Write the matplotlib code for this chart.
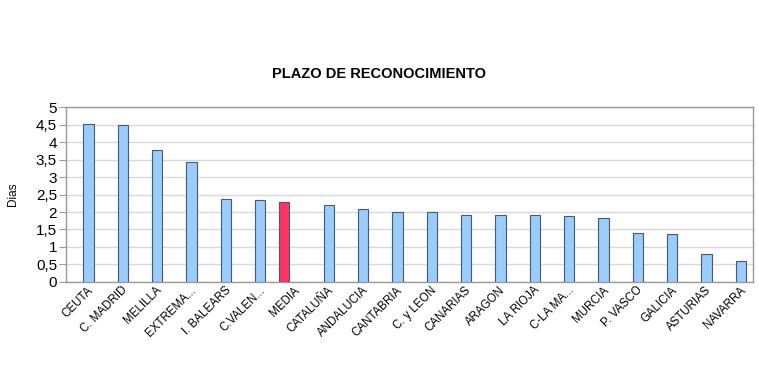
import numpy as np
import matplotlib
matplotlib.use("Agg")
import matplotlib.pyplot as plt
from matplotlib.ticker import FuncFormatter, MultipleLocator
from matplotlib.transforms import ScaledTranslation

plt.rcParams['font.family'] = ['Liberation Sans', 'DejaVu Sans']

regiones = ['CEUTA', 'C. MADRID', 'MELILLA', 'EXTREMA...', 'I. BALEARS', 'C.VALEN...',
            'MEDIA', 'CATALUÑA', 'ANDALUCIA', 'CANTABRIA', 'C. y LEON', 'CANARIAS',
            'ARAGON', 'LA RIOJA', 'C-LA MA...', 'MURCIA', 'P. VASCO', 'GALICIA',
            'ASTURIAS', 'NAVARRA']
plazo = [4.51, 4.50, 3.77, 3.43, 2.37, 2.33, np.nan, 2.20, 2.09, 2.00, 2.00, 1.91,
         1.91, 1.91, 1.89, 1.83, 1.40, 1.37, 0.80, 0.60]
media = [np.nan] * 6 + [2.29] + [np.nan] * 13

fig = plt.figure(figsize=(7.59, 3.91), dpi=100)
ax = fig.add_axes([0.087, 0.279, 0.905, 0.447])

x = np.arange(len(regiones))
w = 0.3
ax.bar(x + w / 2, plazo, w, color='#99CCFF', edgecolor='#4A5868', linewidth=0.8, zorder=3)
ax.bar(x - w / 2, media, w, color='#FF3366', edgecolor='#4A5868', linewidth=0.8, zorder=3)

ax.set_xlim(-0.5, len(regiones) - 0.5)
ax.set_ylim(0, 5)
ax.yaxis.set_major_locator(MultipleLocator(0.5))
ax.yaxis.set_major_formatter(FuncFormatter(lambda v, p: ('%g' % v).replace('.', ',')))
ax.grid(axis='y', color='#D8D8E2', linewidth=1, zorder=0)
for s in ax.spines.values():
    s.set_color('#9A9A9A')
    s.set_linewidth(1)
ax.tick_params(axis='y', length=5, color='#9A9A9A', labelsize=11, pad=1.5)
ax.tick_params(axis='x', length=0, labelsize=8.3, pad=1)

ax.set_xticks(x)
ax.set_xticklabels(regiones, rotation=45, ha='right', rotation_mode='anchor')
off = ScaledTranslation(4 / 100, -1 / 100, fig.dpi_scale_trans)
for lbl in ax.get_xticklabels():
    lbl.set_transform(lbl.get_transform() + off)

ax.set_ylabel('Dias', fontsize=8.5, labelpad=12)
fig.text(0.5, 0.81, 'PLAZO DE RECONOCIMIENTO', ha='center', va='center',
         fontsize=10.5, fontweight='bold')

fig.savefig('out.png', dpi=100)
